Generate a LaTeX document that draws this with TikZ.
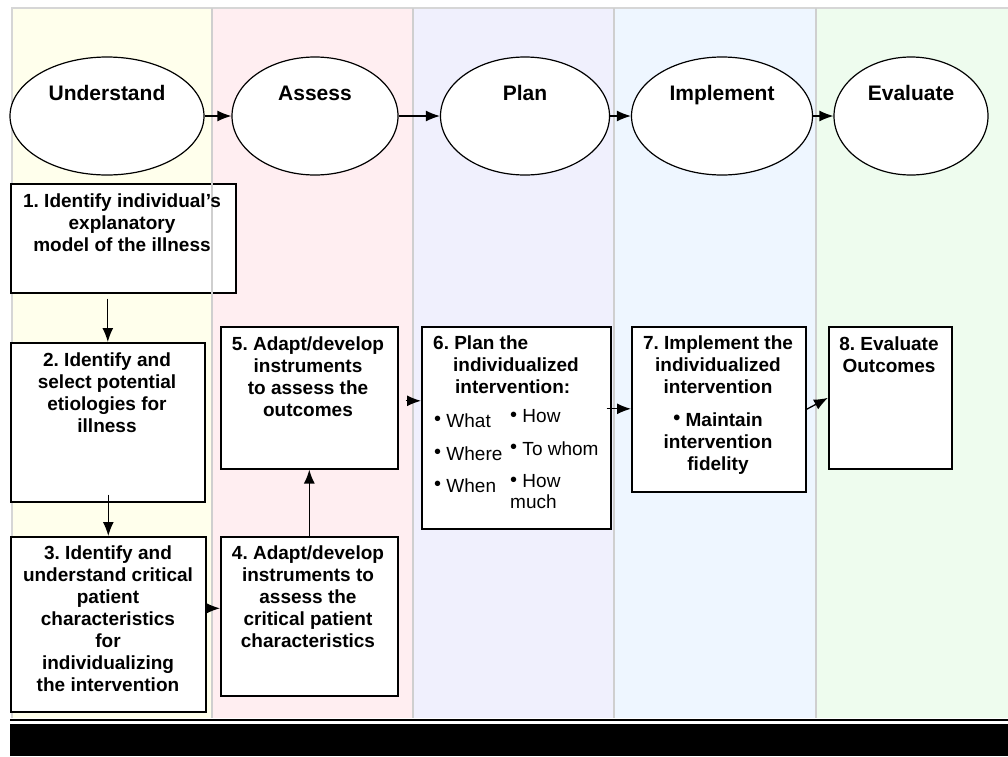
\documentclass[tikz,border=0pt]{standalone}
\usepackage{fontspec}
\setmainfont{Liberation Sans}
\usetikzlibrary{shapes.geometric,arrows.meta,positioning}
\definecolor{understand_bg}{HTML}{FFFFEC}
\definecolor{assess_bg}{HTML}{FFEEF1}
\definecolor{plan_bg}{HTML}{F0F0FD}
\definecolor{implement_bg}{HTML}{EEF6FF}
\definecolor{evaluate_bg}{HTML}{EEFCEE}
\definecolor{column_grey}{HTML}{CFCFCF}
\newcommand{\blt}{\raisebox{1.5pt}{\fontsize{20}{20}\selectfont\textbullet}\ }
\frenchspacing

\begin{document}
\begin{tikzpicture}[x=1pt,y=-1pt,
    phase/.style={ellipse,draw,line width=1.2pt,fill=white,inner sep=0pt,minimum height=118pt},
    phasetext/.style={anchor=base,inner sep=0pt,font=\fontsize{21}{25}\selectfont\bfseries},
    stepbox/.style={rectangle,draw,line width=1.6pt,fill=white,inner sep=0pt,anchor=north west},
    steptext/.style={anchor=north,align=center,inner sep=0pt,font=\fontsize{19}{22}\selectfont\bfseries\frenchspacing},
    itemtext/.style={anchor=north west,align=left,inner sep=0pt,font=\fontsize{19}{21}\selectfont},
    flow/.style={-{Latex[length=14pt,width=11pt]},line width=1.3pt}]
        \useasboundingbox (0,0) rectangle (1008,756);
        % Columns
        \fill[understand_bg] (12,8) rectangle (212,718);
        \fill[assess_bg] (212,8) rectangle (413,718);
        \fill[plan_bg] (413,8) rectangle (614,718);
        \fill[implement_bg] (614,8) rectangle (816,718);
        \fill[evaluate_bg] (816,8) rectangle (1008,718);
        \draw[column_grey!85, line width=1.5pt] (12,718) -- (12,8) -- (1008,8);
        \foreach \x in {212,413,614,816} {
        \draw[column_grey, line width=2pt] (\x,8) -- (\x,718);
        }

        % Phases
        \foreach \name/\x/\w/\txt in {understand/107/194/Understand, assess/315/166/Assess, plan/525/169/Plan, implement/722/181/Implement, evaluate/911/154/Evaluate} {
        \node[phase, minimum width=\w pt] (\name) at (\x,116) {};
        \node[phasetext] (t-\name) at (\x,100) {\txt};
        }
        \foreach \a/\b in {understand/assess, assess/plan, plan/implement, implement/evaluate} {
        \draw[flow] (\a) -- (\b);
        }

        % Steps
        \foreach \name/\x/\y/\w/\h in {s1/10/183/225/109, s2/10/342/194/159, s3/10/536/195/175, s4/220/536/177/159, s5/220/326/177/142, s6/421/326/189/202, s7/631/326/174/165, s8/828/326/123/142} {
        \node[stepbox, minimum width=\w pt, minimum height=\h pt] (\name) at (\x,\y) {};
        }
        % Column line over step 1
        \draw[column_grey, line width=2pt] (s1.north -| 212,0) -- (s1.south -| 212,0);

        % Step texts
        \foreach \name/\x/\y/\txt in {t1/122/193.5/{1. Identify individual's\\explanatory\\model of the illness}, t2/107/352.5/{2. Identify and\\select potential\\etiologies for\\illness}, t3/108/545.5/{3. Identify and\\understand critical\\patient\\characteristics\\for\\individualizing\\the intervention}, t4/308/545.5/{4. Adapt/develop\\instruments to\\assess the\\critical patient\\characteristics}, t5/308/336.5/{5. Adapt/develop\\instruments\\to assess the\\outcomes}, t7/718/335.5/{7. Implement the\\individualized\\intervention\\[11pt]\blt Maintain\\intervention\\fidelity}, t8/889/336.5/{8. Evaluate\\Outcomes}} {
        \node[steptext] (\name) at (\x,\y) {\txt};
        }
        \node[steptext, align=left, anchor=north west] (t6) at (433,335.5) {6. Plan the\\\hspace*{20pt}individualized\\\hspace*{22pt}intervention:};
        % Items of step 6
        \foreach \name/\x/\y/\txt in {i1/434/413.4/What, i2/510/409.4/How, i3/434/446.4/Where, i4/510/441.4/To whom, i5/434/478.4/When, i6/510/474.4/{How\\much}} {
        \node[itemtext] (\name) at (\x,\y) {\blt\txt};
        }

        % Arrows between steps
        \draw[flow, shorten <=5pt] (s2.north |- s1.south) -- (s2.north);
        \draw[flow, shorten <=-8pt] (s3.north |- s2.south) -- (s3.north);
        \draw[flow] ([yshift=16pt]s3.east) coordinate (a34) -- (a34 -| s4.west);
        \draw[flow] (s4.north) -- (s5.south);
        \draw[flow, shorten <=7pt] ([yshift=-3pt]s5.east) coordinate (a56) -- (a56 -| s6.west);
        \draw[flow, shorten <=-5pt] ([yshift=19pt]s6.east) coordinate (a67) -- (a67 -| s7.west);
        \draw[flow] (s7.east) -- (s8.west);

        % Bottom bar
        \draw[line width=2pt] (10,720) -- (1008,720);
        \fill (10,724) rectangle (1008,756);
    \end{tikzpicture}
\end{document}
